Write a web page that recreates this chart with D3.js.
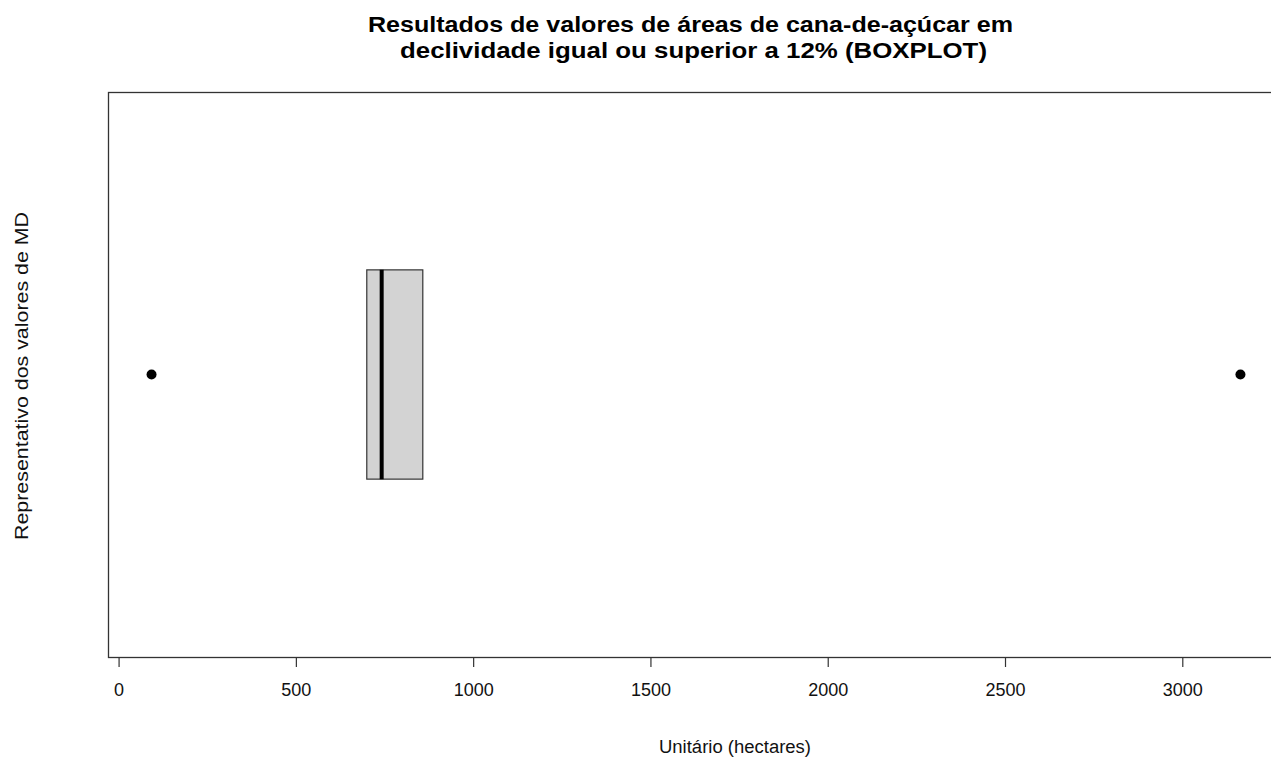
<!DOCTYPE html>
<html>
<head>
<meta charset="utf-8">
<script src="https://cdn.jsdelivr.net/npm/d3@7"></script>
<style>
  body { margin: 0; background: #fff; }
  svg text { font-family: "Liberation Sans", Arial, sans-serif; fill: #000; }
</style>
</head>
<body>
<div id="chart-area"></div>
<script>

// DATA

var boxStats = [{ pos: 1, q1: 700, median: 742, q3: 858, whiskerLow: 700, whiskerHigh: 858 }];
var outliers = [93, 3164];
var xTicks = [0, 500, 1000, 1500, 2000, 2500, 3000];
var titleLines = ["Resultados de valores de áreas de cana-de-açúcar em",
                  "declividade igual ou superior a 12% (BOXPLOT)"];
var xLabel = "Unitário (hectares)";
var yLabel = "Representativo dos valores de MD";


// CHART AREA

var W = 1271, H = 760;
var margin = {top: 92, right: -13, bottom: 103, left: 108},
    width = W - margin.left - margin.right,
    height = H - margin.top - margin.bottom;

var svg = d3.select("#chart-area").append("svg")
    .attr("width", W)
    .attr("height", H);

var g = svg.append("g")
    .attr("transform", "translate(" + margin.left + "," + margin.top + ")");

// R style: range extended by 4% on each side
var lo = d3.min(outliers.concat([boxStats[0].whiskerLow]));
var hi = d3.max(outliers.concat([boxStats[0].whiskerHigh]));
var ext = (hi - lo) * 0.04;

var x = d3.scaleLinear()
    .domain([lo - ext, hi + ext])
    .range([0, width]);

// one box at position 1, axis 0.5..1.5 extended by 4%
var y = d3.scaleLinear()
    .domain([1.54, 0.46])
    .range([0, height]);

var halfWidth = 0.2;


// BOX

var b = boxStats[0];

g.append("rect")
    .attr("x", x(b.q1))
    .attr("y", y(b.pos + halfWidth))
    .attr("width", x(b.q3) - x(b.q1))
    .attr("height", y(b.pos - halfWidth) - y(b.pos + halfWidth))
    .attr("fill", "#d3d3d3")
    .attr("stroke", "#333")
    .attr("stroke-width", 1.2);

g.append("line")
    .attr("x1", x(b.median)).attr("x2", x(b.median))
    .attr("y1", y(b.pos + halfWidth)).attr("y2", y(b.pos - halfWidth))
    .attr("stroke", "#000")
    .attr("stroke-width", 4);

// outliers
g.selectAll(".outlier")
    .data(outliers)
    .enter()
    .append("circle")
    .attr("class", "outlier")
    .attr("cx", function(d) { return x(d); })
    .attr("cy", y(b.pos))
    .attr("r", 5)
    .attr("fill", "#000");


// FRAME + AXIS

g.append("rect")
    .attr("x", 0.5).attr("y", 0.5)
    .attr("width", width).attr("height", height)
    .attr("fill", "none")
    .attr("stroke", "#333")
    .attr("stroke-width", 1.3);

var xAxis = d3.axisBottom(x)
    .tickValues(xTicks)
    .tickFormat(d3.format("d"))
    .tickSize(10)
    .tickPadding(16)
    .tickSizeOuter(0);

var xAxisGroup = g.append("g")
    .attr("class", "x-axis axis")
    .attr("transform", "translate(0," + height + ")")
    .call(xAxis);

xAxisGroup.select(".domain").remove();
xAxisGroup.selectAll("line").attr("stroke", "#333").attr("stroke-width", 1.2);
xAxisGroup.selectAll("text")
    .style("font-size", "18px")
    .style("fill", "#111");


// TEXTS

var titleCenters = [690.5, 693.5],
    titleWidths = [645, 587];

svg.selectAll(".title")
    .data(titleLines)
    .enter()
    .append("text")
    .attr("class", "title")
    .attr("x", function(d, i) { return titleCenters[i]; })
    .attr("y", function(d, i) { return 32 + i * 26; })
    .attr("text-anchor", "middle")
    .attr("textLength", function(d, i) { return titleWidths[i]; })
    .attr("lengthAdjust", "spacingAndGlyphs")
    .style("font-size", "22px")
    .style("font-weight", "bold")
    .text(function(d) { return d; });

svg.append("text")
    .attr("x", margin.left + width / 2 - 37)
    .attr("y", 753)
    .attr("textLength", 152)
    .attr("lengthAdjust", "spacingAndGlyphs")
    .style("font-size", "18px")
    .style("fill", "#111")
    .text(xLabel);

svg.append("text")
    .attr("transform", "translate(28,540) rotate(-90)")
    .attr("textLength", 328)
    .attr("lengthAdjust", "spacingAndGlyphs")
    .style("font-size", "19px")
    .style("fill", "#111")
    .text(yLabel);

</script>
</body>
</html>
